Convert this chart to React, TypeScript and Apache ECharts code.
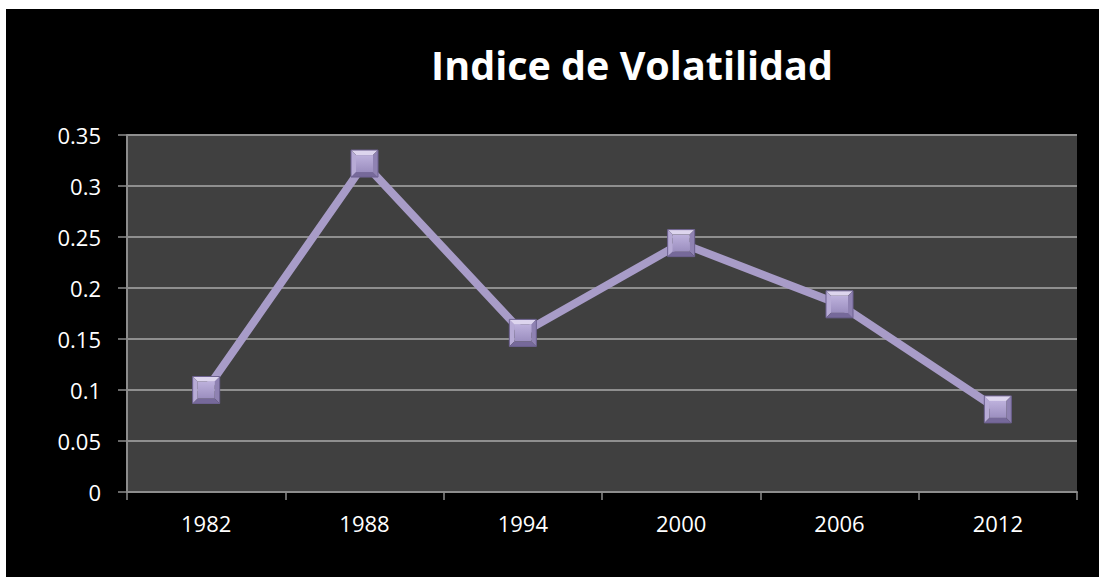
import React, { useEffect, useRef } from "react";
import * as echarts from "echarts";

const titleText = "Indice de Volatilidad";
const years = ["1982", "1988", "1994", "2000", "2006", "2012"];
const volatility = [0.1, 0.322, 0.156, 0.244, 0.184, 0.081];
const yTicks = [0, 0.05, 0.1, 0.15, 0.2, 0.25, 0.3, 0.35];

const FONT = "'Open Sans', 'Noto Sans', sans-serif";

export default function App() {
  const ref = useRef<HTMLDivElement>(null);
  useEffect(() => {
    if (!ref.current) return;
    const chart = echarts.init(ref.current, undefined, { renderer: "svg" });
    const S = 13.5;
    chart.setOption({
      animation: false,
      backgroundColor: "#000000",
      graphic: [
        {
          type: "text",
          x: 626,
          y: 56,
          style: {
            text: titleText,
            fill: "#ffffff",
            font: `bold 39.5px ${FONT}`,
            textAlign: "center",
            textVerticalAlign: "middle",
          },
        },
      ],
      grid: {
        left: 121,
        top: 126,
        right: 22,
        bottom: 85,
        show: true,
        backgroundColor: "#404040",
        borderWidth: 0,
      },
      xAxis: {
        type: "category",
        data: years,
        boundaryGap: true,
        axisLine: { show: true, lineStyle: { color: "#8c8c8c", width: 2 } },
        axisTick: { show: true, alignWithLabel: false, length: 8, lineStyle: { color: "#8c8c8c", width: 1.5 } },
        axisLabel: { color: "#ffffff", fontFamily: FONT, fontSize: 22, margin: 20 },
        splitLine: { show: false },
      },
      yAxis: {
        type: "value",
        min: 0,
        max: 0.35,
        interval: 0.05,
        axisLine: { show: true, lineStyle: { color: "#8c8c8c", width: 2 } },
        axisTick: { show: true, length: 9, lineStyle: { color: "#8c8c8c", width: 1.5 } },
        axisLabel: {
          color: "#ffffff",
          fontFamily: FONT,
          fontSize: 22,
          margin: 26,
          formatter: (v: number) => {
            const t = yTicks.find((x) => Math.abs(x - v) < 1e-9);
            return String(t !== undefined ? t : v);
          },
        },
        splitLine: { show: true, lineStyle: { color: "#8f8f8f", width: 2 } },
      },
      series: [
        {
          type: "line",
          data: volatility,
          symbol: "none",
          lineStyle: { color: "#a89cc8", width: 8 },
          z: 2,
        },
        {
          type: "custom",
          data: volatility.map((v, i) => [i, v]),
          z: 3,
          renderItem: (params: any, api: any) => {
            const p = api.coord([api.value(0), api.value(1)]);
            const x = p[0];
            const y = p[1];
            const o = S;
            const b = 5;
            const i = o - b;
            const tl = [x - o, y - o];
            const tr = [x + o, y - o];
            const br = [x + o, y + o];
            const bl = [x - o, y + o];
            const itl = [x - i, y - i];
            const itr = [x + i, y - i];
            const ibr = [x + i, y + i];
            const ibl = [x - i, y + i];
            return {
              type: "group",
              children: [
                { type: "polygon", shape: { points: [tl, tr, itr, itl] }, style: { fill: "#ddd5ee" } },
                { type: "polygon", shape: { points: [tl, itl, ibl, bl] }, style: { fill: "#b7abd6" } },
                { type: "polygon", shape: { points: [tr, br, ibr, itr] }, style: { fill: "#8f82b2" } },
                { type: "polygon", shape: { points: [bl, ibl, ibr, br] }, style: { fill: "#76699a" } },
                {
                  type: "rect",
                  shape: { x: x - i, y: y - i, width: 2 * i, height: 2 * i },
                  style: {
                    fill: new echarts.graphic.LinearGradient(0, 0, 0, 1, [
                      { offset: 0, color: "#bdb1dc" },
                      { offset: 1, color: "#9b8ebf" },
                    ]),
                  },
                },
                {
                  type: "rect",
                  shape: { x: x - o, y: y - o, width: 2 * o, height: 2 * o },
                  style: { fill: "none", stroke: "#6d6190", lineWidth: 1 },
                },
              ],
            };
          },
        },
      ],
    });
    return () => chart.dispose();
  }, []);
  return (
    <div
      ref={ref}
      style={{ position: "fixed", left: 6, top: 9, width: 1093, height: 568 }}
    />
  );
}
